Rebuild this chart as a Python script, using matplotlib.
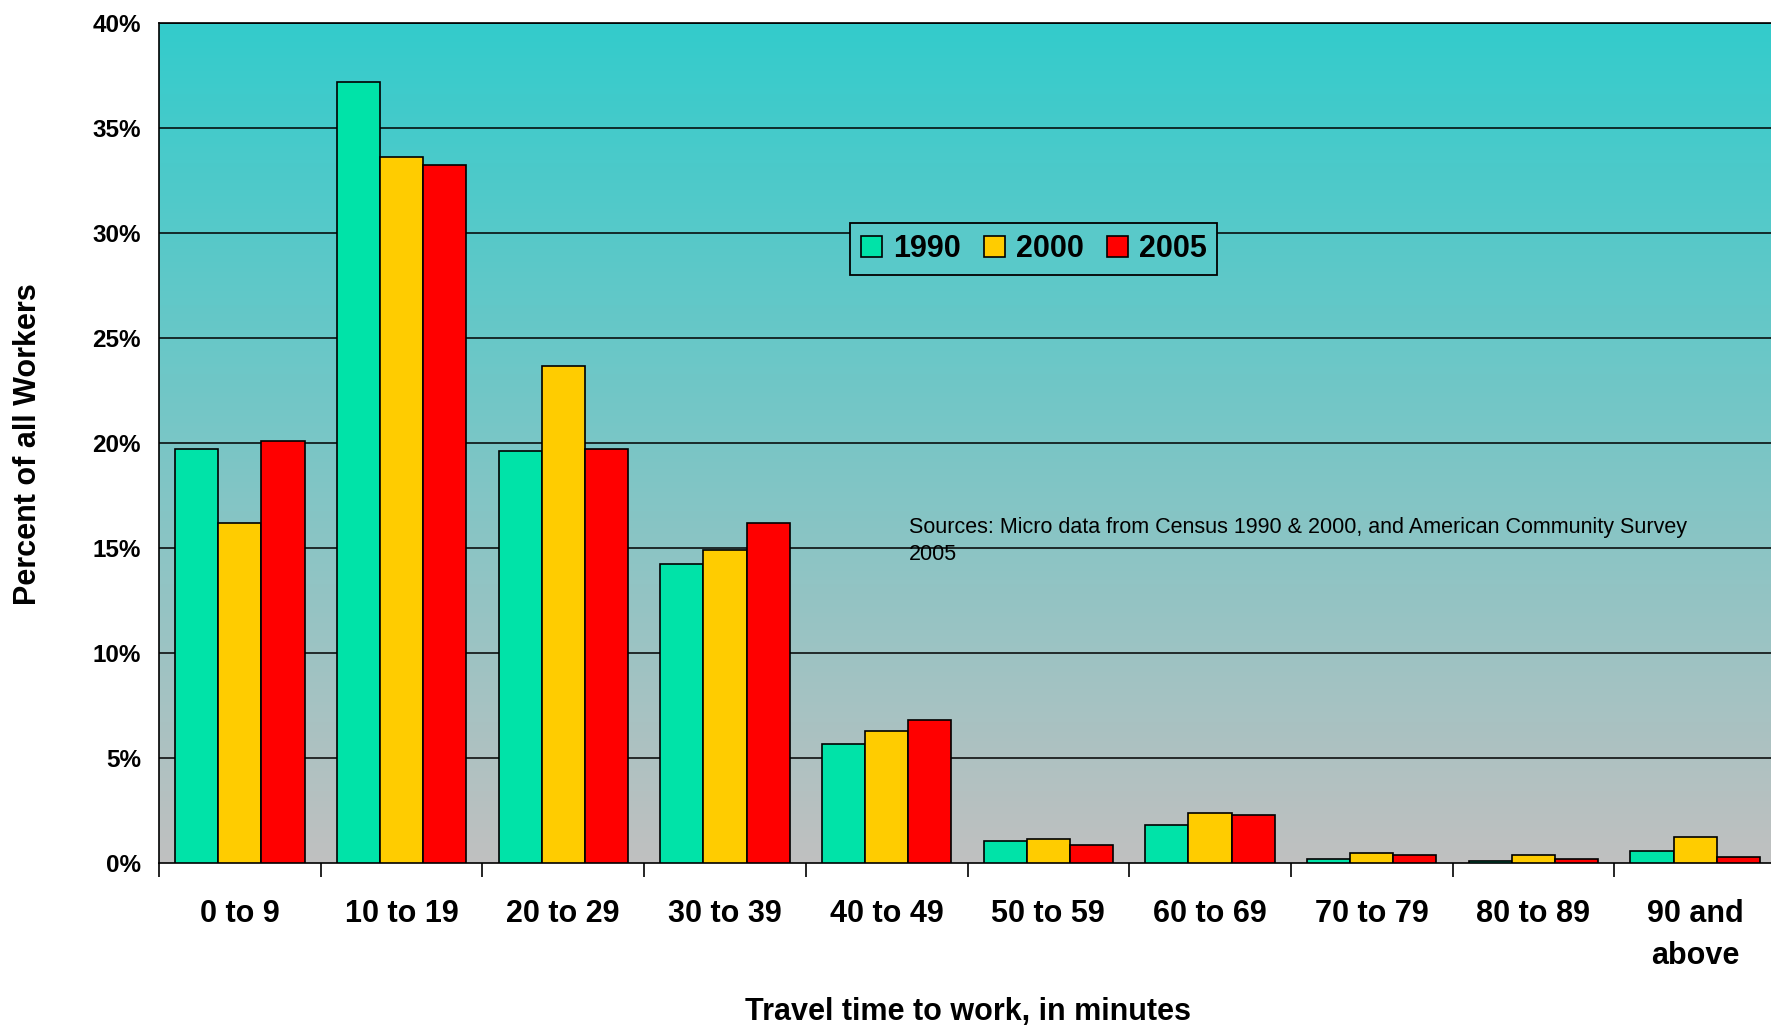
import numpy as np
import matplotlib
matplotlib.use("Agg")
import matplotlib.pyplot as plt
from matplotlib.colors import LinearSegmentedColormap

plt.rcParams['font.family'] = ['Liberation Sans', 'DejaVu Sans']

# travel time categories and share of workers (%) per census year
categories = ["0 to 9", "10 to 19", "20 to 29", "30 to 39", "40 to 49",
              "50 to 59", "60 to 69", "70 to 79", "80 to 89", "90 and\nabove"]
years = ["1990", "2000", "2005"]
share_1990 = [19.7, 37.15, 19.6, 14.25, 5.65, 1.05, 1.81, 0.19, 0.11, 0.57]
share_2000 = [16.2, 33.6, 23.65, 14.9, 6.3, 1.14, 2.38, 0.48, 0.40, 1.25]
share_2005 = [20.1, 33.2, 19.7, 16.2, 6.8, 0.87, 2.29, 0.40, 0.19, 0.30]
yticks = [0, 5, 10, 15, 20, 25, 30, 35, 40]
ytick_labels = ["0%", "5%", "10%", "15%", "20%", "25%", "30%", "35%", "40%"]

series = [share_1990, share_2000, share_2005]
colors = ['#00E3A8', '#FFCC00', '#FF0000']

fig = plt.figure(figsize=(17.71, 10.26), dpi=100)
ax = fig.add_axes([159 / 1771, 163 / 1026, 1617 / 1771, 840.4 / 1026])

# vertical gradient background: turquoise at top, grey at bottom
grad = LinearSegmentedColormap.from_list('bg', ['#C0C0C0', '#33CCCC'])
ax.imshow(np.linspace(0, 1, 256).reshape(-1, 1), cmap=grad, origin='lower',
          extent=[-0.5, 9.5, 0, 40], aspect='auto', zorder=0)

x = np.arange(len(categories))
width = 0.8 / 3
for i, (vals, col, yr) in enumerate(zip(series, colors, years)):
    ax.bar(x + (i - 1) * width, vals, width, color=col, edgecolor='black',
           linewidth=1.2, label=yr, zorder=3)

ax.set_xlim(-0.5, 9.5)
ax.set_ylim(0, 40)

for yv in yticks[1:]:
    ax.axhline(yv, color='black', linewidth=1.1, zorder=1)

ax.set_yticks(yticks)
ax.set_yticklabels(ytick_labels, fontsize=17.5, fontweight='bold')
ax.tick_params(axis='y', length=0, pad=13)

ax.set_xticks(x)
ax.set_xticklabels(categories, fontsize=22, fontweight='bold', linespacing=1.5)
ax.tick_params(axis='x', length=0, pad=26)
ax.set_xticks(np.arange(-0.5, 10, 1), minor=True)
ax.tick_params(axis='x', which='minor', length=10, width=1.2, color='black')

for side in ['left', 'bottom', 'top']:
    ax.spines[side].set_linewidth(1.2)
    ax.spines[side].set_color('black')
ax.spines['right'].set_visible(False)

leg = ax.legend(loc='center', bbox_to_anchor=(0.541, 0.7305), ncol=3,
                prop={'weight': 'bold', 'size': 22}, fancybox=False,
                frameon=True, handlelength=0.7, handleheight=0.7,
                handletextpad=0.35, columnspacing=0.75, borderpad=0.35,
                borderaxespad=0)
leg.get_frame().set_facecolor('#59C9C9')
leg.get_frame().set_edgecolor('black')
leg.get_frame().set_linewidth(1.3)
leg.get_frame().set_alpha(1)
leg.set_zorder(5)

ax.text(0.4638, 0.412,
        "Sources: Micro data from Census 1990 & 2000, and American Community Survey\n2005",
        transform=ax.transAxes, fontsize=15.5, va='top', ha='left',
        linespacing=1.4, zorder=4)

fig.text(968 / 1771, 1 - 1012 / 1026, "Travel time to work, in minutes",
         fontsize=22, fontweight='bold', ha='center', va='center')
fig.text(28 / 1771, 1 - 444.5 / 1026, "Percent of all Workers",
         fontsize=22, fontweight='bold', ha='center', va='center', rotation=90)

fig.savefig("out.png", dpi=100)
